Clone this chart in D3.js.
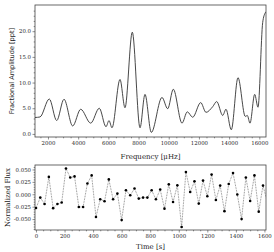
<!DOCTYPE html>
<html><head><meta charset="utf-8">
<script src="https://cdn.jsdelivr.net/npm/d3@7/dist/d3.min.js"></script>
<style>body{margin:0;background:#fff}svg{display:block}</style>
</head><body>
<svg id="c" width="274" height="252"></svg>
<script>
// ---- Top panel: amplitude spectrum ----
const freq = [1140,1471,2087,2577,3061,3637,4167,4830,5399,5843,6042,6241,6771,7102,7586,8096,8427,8844,9553,9931,10302,10878,11229,11587,12117,12468,12912,13177,13575,13793,14144,14588,15072,15204,15383,15694,15913,16224,16397,16443];
const amp  = [3.2,3.3,6.8,2.6,6.75,1.55,4.8,2.1,5.0,1.4,2.6,1.2,10.6,5.1,19.8,1.2,7.7,0.3,7.1,4.9,8.7,2.1,4.3,3.25,6.1,4.2,5.3,6.3,3.6,4.8,0.8,10.95,3.4,3.6,2.1,7.7,5.2,21.7,23.6,23.8];
const freqTicks = [2000,4000,6000,8000,10000,12000,14000,16000];
const ampTicks = [0,5,10,15,20];

// ---- Bottom panel: light curve ----
const time = [0,30,60,90,120,150,180,210,240,270,300,330,360,390,420,450,480,510,540,570,600,630,660,690,720,750,780,810,840,870,900,930,960,990,1020,1050,1080,1110,1140,1170,1200,1230,1260,1290,1320,1350,1380,1410,1440,1470,1500,1530,1560,1590,1620];
const flux = [-0.0276,-0.0067,-0.0196,0.035,-0.028,-0.0196,-0.0167,0.0518,0.0337,0.036,-0.0256,-0.0256,0.0216,0.038,-0.0458,-0.010,-0.014,0.030,-0.010,0.0014,-0.052,0.008,-0.002,0.0115,-0.0087,-0.0067,-0.0067,0.008,-0.010,0.0095,-0.029,0.020,-0.0155,0.018,-0.066,0.045,0.0046,0.026,-0.0188,0.0276,-0.004,0.0397,-0.0115,0.0175,-0.034,0.0208,0.043,-0.0006,-0.050,0.0337,-0.0135,0.038,-0.035,0.0175,-0.015];
const timeTicks = [0,200,400,600,800,1000,1200,1400,1600];
const fluxTicks = [-0.050,-0.025,0,0.025,0.050];

const svg = d3.select("#c");
const SERIF = "'DejaVu Serif', serif";
const SANS = "'DejaVu Sans', sans-serif";
const fmt = (f) => (v) => d3.format(f)(v).replace("\u2212","-");

function panel(cfg){
  const g = svg.append("g");
  const x = d3.scaleLinear().domain(cfg.xd).range([cfg.l, cfg.r]);
  const y = d3.scaleLinear().domain(cfg.yd).range([cfg.b, cfg.t]);
  const clipId = cfg.id + "clip";
  svg.append("clipPath").attr("id", clipId).append("rect")
    .attr("x", cfg.l).attr("y", cfg.t).attr("width", cfg.r-cfg.l).attr("height", cfg.b-cfg.t);
  const xa = g.append("g").attr("transform", `translate(0,${cfg.b})`)
    .call(d3.axisBottom(x).tickValues(cfg.xt).tickSize(2.5).tickPadding(2).tickFormat(cfg.xf));
  const xm = g.append("g").attr("transform", `translate(0,${cfg.b})`)
    .call(d3.axisBottom(x).tickValues(cfg.xm).tickSize(1.3).tickFormat(""));
  const ya = g.append("g").attr("transform", `translate(${cfg.l},0)`)
    .call(d3.axisLeft(y).tickValues(cfg.yt).tickSize(2.5).tickPadding(1.5).tickFormat(cfg.yf));
  const ym = g.append("g").attr("transform", `translate(${cfg.l},0)`)
    .call(d3.axisLeft(y).tickValues(cfg.ym).tickSize(1.3).tickFormat(""));
  [xa,xm,ya,ym].forEach(a=>{
    a.select(".domain").remove();
    a.selectAll("line").attr("stroke","#444").attr("stroke-width",0.6);
    a.selectAll("text").attr("font-family",SERIF).attr("font-size",5.4).attr("fill","#222");
  });
  g.append("rect").attr("x",cfg.l).attr("y",cfg.t).attr("width",cfg.r-cfg.l).attr("height",cfg.b-cfg.t)
    .attr("fill","none").attr("stroke","#444").attr("stroke-width",0.8);
  return {g,x,y,clipId};
}

// top
const P1 = panel({id:"p1", l:35, r:266, t:5, b:137, xd:[1140,16443], yd:[-0.6,25.1],
  xt:freqTicks, xm:d3.range(1500,16443,500).filter(v=>v%2000!==0), xf:fmt("d"),
  yt:ampTicks, ym:d3.range(0,25,1).filter(v=>v%5!==0), yf:fmt(".1f")});
const line1 = d3.line().x((d,i)=>P1.x(freq[i])).y((d,i)=>P1.y(amp[i])).curve(d3.curveMonotoneX);
P1.g.append("path").attr("clip-path",`url(#${P1.clipId})`).attr("d", line1(freq))
  .attr("fill","none").attr("stroke","#333").attr("stroke-width",0.9);
svg.append("text").attr("x",150.5).attr("y",159).attr("text-anchor","middle")
  .attr("font-family",SERIF).attr("font-size",7).attr("fill","#222").text("Frequency [\u03bcHz]");
svg.append("text").attr("transform","translate(14,71) rotate(-90)").attr("text-anchor","middle")
  .attr("font-family",SANS).attr("font-size",6.6).attr("fill","#222").text("Fractional Amplitude [ppt]");

// bottom
const P2 = panel({id:"p2", l:35, r:266, t:165, b:230, xd:[-7,1611], yd:[-0.072,0.059],
  xt:timeTicks, xm:d3.range(50,1611,50).filter(v=>v%200!==0), xf:fmt("d"),
  yt:fluxTicks, ym:d3.range(-0.070,0.0581,0.005).filter(v=>Math.abs(Math.round(v*1000))%25!==0), yf:fmt(".3f")});
const line2 = d3.line().x((d,i)=>P2.x(time[i])).y((d,i)=>P2.y(flux[i]));
const clipped = P2.g.append("g").attr("clip-path",`url(#${P2.clipId})`);
clipped.append("path").attr("d", line2(time)).attr("fill","none")
  .attr("stroke","#555").attr("stroke-width",0.7).attr("stroke-dasharray","0.8,0.8");
clipped.selectAll("circle").data(time).join("circle")
  .attr("cx",(d,i)=>P2.x(time[i])).attr("cy",(d,i)=>P2.y(flux[i])).attr("r",1.3).attr("fill","#000");
svg.append("text").attr("x",150.5).attr("y",249).attr("text-anchor","middle")
  .attr("font-family",SERIF).attr("font-size",7).attr("fill","#222").text("Time [s]");
svg.append("text").attr("transform","translate(10,197.5) rotate(-90)").attr("text-anchor","middle")
  .attr("font-family",SERIF).attr("font-size",7).attr("fill","#222").text("Normalized Flux");
</script>
</body></html>
